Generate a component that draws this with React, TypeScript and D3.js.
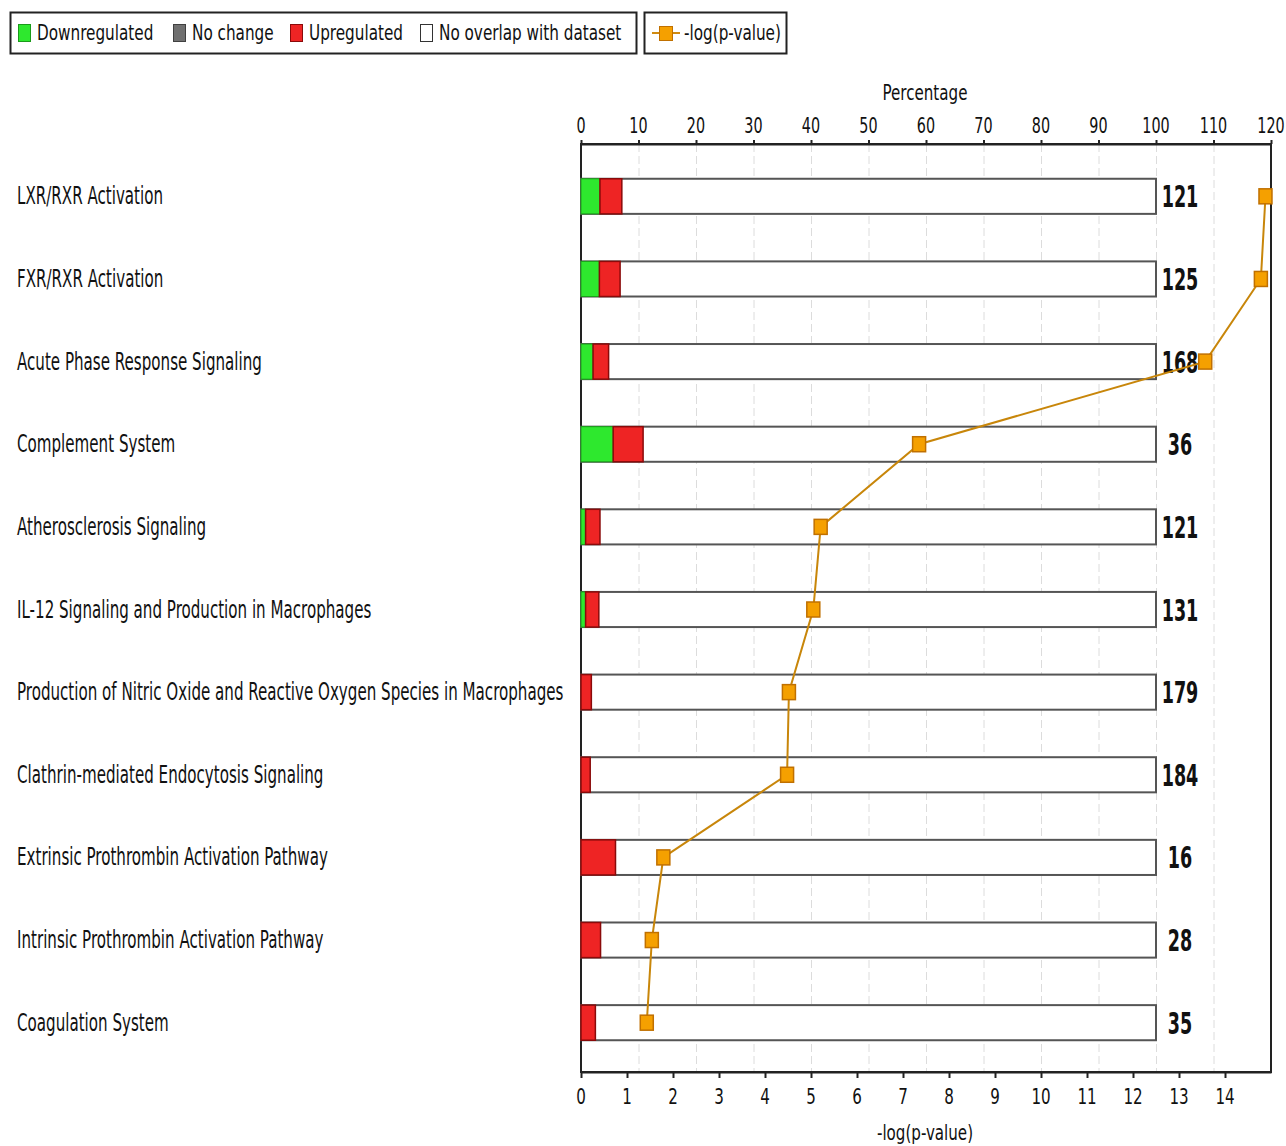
import { useEffect, useRef } from "react";
import { select, scaleLinear, scaleBand, axisTop, axisBottom, line } from "d3";

const pathways = [
  "LXR/RXR Activation",
  "FXR/RXR Activation",
  "Acute Phase Response Signaling",
  "Complement System",
  "Atherosclerosis Signaling",
  "IL-12 Signaling and Production in Macrophages",
  "Production of Nitric Oxide and Reactive Oxygen Species in Macrophages",
  "Clathrin-mediated Endocytosis Signaling",
  "Extrinsic Prothrombin Activation Pathway",
  "Intrinsic Prothrombin Activation Pathway",
  "Coagulation System",
];
const downPct = [3.3, 3.2, 2.1, 5.6, 0.8, 0.8, 0, 0, 0, 0, 0];
const upPct = [3.8, 3.6, 2.7, 5.2, 2.5, 2.3, 1.8, 1.6, 6.0, 3.4, 2.5];
const totals = [121, 125, 168, 36, 121, 131, 179, 184, 16, 28, 35];
const negLogP = [14.88, 14.78, 13.57, 7.35, 5.21, 5.05, 4.52, 4.48, 1.79, 1.54, 1.43];
const pctTicks = [0, 10, 20, 30, 40, 50, 60, 70, 80, 90, 100, 110, 120];
const pTicks = [0, 1, 2, 3, 4, 5, 6, 7, 8, 9, 10, 11, 12, 13, 14];

const legendItems = [
  { label: "Downregulated", color: "#2ee82e", stroke: "#1a9a1a" },
  { label: "No change", color: "#707070", stroke: "#404040" },
  { label: "Upregulated", color: "#ee2424", stroke: "#8a0a0a" },
  { label: "No overlap with dataset", color: "#ffffff", stroke: "#333" },
];

const FONT = "'Liberation Sans Narrow', 'DejaVu Sans Condensed', 'Arial Narrow', sans-serif";

function App() {
  const svgRef = useRef(null);
  const width = 1286;
  const height = 1146;

  useEffect(() => {
    const svg = select(svgRef.current);
    svg.selectAll("*").remove();

    const left = 581;
    const right = 1271;
    const top = 144;
    const bottom = 1072;

    const xPct = scaleLinear().domain([0, 120]).range([left, right]);
    const xP = scaleLinear().domain([0, 15]).range([left, right]);
    const y = scaleBand()
      .domain(pathways)
      .range([155, 1064])
      .paddingInner(0.575)
      .paddingOuter(0.2875);

    // text is squeezed horizontally in the original picture
    const txt = (g, x, yy, s, size, sx, anchor = "start", weight = "normal") =>
      g
        .append("text")
        .attr("transform", `translate(${x},${yy}) scale(${sx},1)`)
        .attr("text-anchor", anchor)
        .attr("font-family", FONT)
        .attr("font-size", size)
        .attr("font-weight", weight)
        .attr("fill", "#111")
        .text(s);

    // legend
    const lg = svg.append("g");
    lg.append("rect").attr("x", 10.5).attr("y", 12.5).attr("width", 626).attr("height", 41)
      .attr("fill", "#fff").attr("stroke", "#222").attr("stroke-width", 2);
    lg.append("rect").attr("x", 644.5).attr("y", 12.5).attr("width", 142).attr("height", 41)
      .attr("fill", "#fff").attr("stroke", "#222").attr("stroke-width", 2);
    const legX = [18, 173, 290, 420];
    legendItems.forEach((d, i) => {
      lg.append("rect").attr("x", legX[i] + 0.5).attr("y", 24.5).attr("width", 12).attr("height", 17)
        .attr("fill", d.color).attr("stroke", d.stroke);
      txt(lg, legX[i] + 19, 40, d.label, 22, 0.77);
    });
    lg.append("line").attr("x1", 652).attr("x2", 680).attr("y1", 33).attr("y2", 33)
      .attr("stroke", "#d08a10").attr("stroke-width", 2);
    lg.append("rect").attr("x", 659.5).attr("y", 26.5).attr("width", 13).attr("height", 14)
      .attr("fill", "#f5a000").attr("stroke", "#c07000");
    txt(lg, 684, 40, "-log(p-value)", 22, 0.77);

    // gridlines
    svg.append("g")
      .selectAll("line")
      .data(pctTicks.filter((t) => t > 0 && t < 120))
      .join("line")
      .attr("x1", (d) => xPct(d) + 0.5)
      .attr("x2", (d) => xPct(d) + 0.5)
      .attr("y1", top)
      .attr("y2", bottom)
      .attr("stroke", "#dcdcdc")
      .attr("stroke-dasharray", "8,4");

    // frame
    svg.append("rect").attr("x", left).attr("y", top).attr("width", right - left).attr("height", bottom - top)
      .attr("fill", "none").attr("stroke", "#222").attr("stroke-width", 2);

    // axes
    const topAxis = svg.append("g").attr("transform", `translate(0,${top})`)
      .call(axisTop(xPct).tickValues(pctTicks).tickSize(4).tickSizeOuter(0));
    const botAxis = svg.append("g").attr("transform", `translate(0,${bottom})`)
      .call(axisBottom(xP).tickValues(pTicks).tickSize(6).tickSizeOuter(0));
    [topAxis, botAxis].forEach((a) => {
      a.select(".domain").attr("stroke", "#222").attr("stroke-width", 2);
      a.selectAll(".tick line").attr("stroke", "#222").attr("stroke-width", 2);
      a.selectAll(".tick text").remove();
    });
    pctTicks.forEach((t) => txt(svg, xPct(t), 133, String(t), 21, 0.76, "middle"));
    pTicks.forEach((t) => txt(svg, xP(t), 1104, String(t), 21, 0.8, "middle"));
    txt(svg, 925, 100, "Percentage", 21, 0.8, "middle");
    txt(svg, 925, 1140, "-log(p-value)", 21, 0.8, "middle");

    // bars
    const bh = y.bandwidth();
    pathways.forEach((p, i) => {
      const y0 = y(p);
      const g = svg.append("g");
      g.append("rect").attr("x", xPct(0)).attr("y", y0).attr("width", xPct(100) - xPct(0)).attr("height", bh)
        .attr("fill", "#fff").attr("stroke", "#555").attr("stroke-width", 2);
      if (downPct[i] > 0) {
        g.append("rect").attr("x", xPct(0)).attr("y", y0).attr("width", xPct(downPct[i]) - xPct(0)).attr("height", bh)
          .attr("fill", "#2ee82e").attr("stroke", "#1aa01a").attr("stroke-width", 1);
      }
      g.append("rect").attr("x", xPct(downPct[i])).attr("y", y0)
        .attr("width", xPct(downPct[i] + upPct[i]) - xPct(downPct[i])).attr("height", bh)
        .attr("fill", "#ee2424").attr("stroke", "#8a0a0a").attr("stroke-width", 1.5);
      txt(svg, 17, y0 + bh / 2 + 8, p, 24, 0.7);
      txt(svg, 1180, y0 + bh / 2 + 11, String(totals[i]), 31, 0.63, "middle", "bold");
    });

    // -log(p-value) line
    const cy = (i) => y(pathways[i]) + bh / 2;
    const lineGen = line()
      .x((d) => xP(d))
      .y((d, i) => cy(i));
    svg.append("path").datum(negLogP).attr("d", lineGen)
      .attr("fill", "none").attr("stroke", "#c8860a").attr("stroke-width", 2);
    svg.append("g")
      .selectAll("rect")
      .data(negLogP)
      .join("rect")
      .attr("x", (d) => xP(d) - 6.5)
      .attr("y", (d, i) => cy(i) - 7.5)
      .attr("width", 13)
      .attr("height", 15)
      .attr("fill", "#f5a000")
      .attr("stroke", "#c07000")
      .attr("stroke-width", 1.5);
  }, []);

  return (
    <svg
      ref={svgRef}
      width={width}
      height={height}
      style={{ display: "block", background: "#fff", position: "fixed", left: 0, top: 0 }}
    />
  );
}

export default App;
